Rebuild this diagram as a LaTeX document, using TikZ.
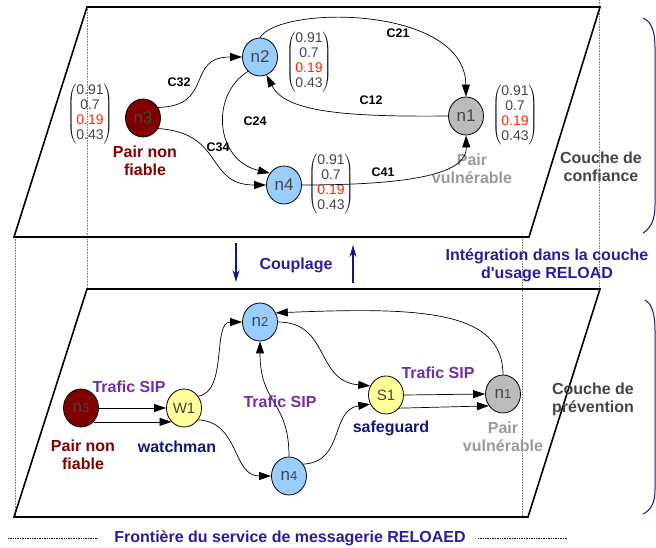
\documentclass[tikz,border=0pt]{standalone}
\usepackage{fontspec}
\setmainfont{Liberation Sans}
\usetikzlibrary{arrows.meta,shapes.geometric}
\definecolor{lblue}{HTML}{99CCFF}
\definecolor{ngray}{HTML}{BBBBBB}
\definecolor{nyellow}{HTML}{FFFF99}
\definecolor{dred}{HTML}{800000}
\definecolor{tgray}{HTML}{444444}
\definecolor{pgray}{HTML}{999999}
\definecolor{vred}{HTML}{FF2A00}
\definecolor{indigo}{HTML}{2E1A9A}
\definecolor{navyb}{HTML}{16167A}
\definecolor{purp}{HTML}{6F2FA8}
\newcommand\myvec{$\left(\vcenter{\hbox{\fontsize{14}{15}\selectfont\color{tgray}\begin{tabular}{@{}c@{}}0.91\\0.7\\\textcolor{vred}{0.19}\\0.43\end{tabular}}}\right)$}
\begin{document}
\begin{tikzpicture}[x=1pt,y=-1pt,
  nd/.style={ellipse,draw=black,line width=0.8pt,minimum width=35pt,minimum height=38pt,inner sep=0pt,font=\fontsize{17}{17}\selectfont,text=tgray},
  ndb/.style={nd,font=\fontsize{15}{15}\selectfont},
  arr/.style={-{Triangle[length=12pt,width=8pt]},line width=0.7pt},
  lay/.style={line width=1.6pt,line join=miter},
  dots/.style={densely dotted,gray,line width=0.6pt},
  lbl/.style={font=\fontsize{16}{18}\selectfont\bfseries,align=center,inner sep=0pt},
  elbl/.style={font=\fontsize{12.5}{14}\selectfont\bfseries,inner sep=0pt},
  vecn/.style={inner sep=0pt,font=\fontsize{14}{15}\selectfont}
]
\useasboundingbox (0,0) rectangle (656,547);
% dotted projection lines
\draw[dots] (87,7) -- (87,289);
\draw[dots] (15,237) -- (15,517);
\draw[dots] (599,0) -- (599,289);
\draw[dots] (522,237) -- (522,517);
% layers
\draw[lay] (87,7) -- (600,7) -- (529,237) -- (14,237) -- cycle;
\draw[lay] (87,289) -- (600,289) -- (528,517) -- (14,517) -- cycle;
% brackets
\draw[navyb,line width=1pt] (643,18) .. controls (652,22) and (655,32) .. (655,48) -- (655,205) .. controls (655,220) and (651,228) .. (643,233);
\draw[navyb,line width=1pt] (645,300) .. controls (652,304) and (655,314) .. (655,330) -- (655,490) .. controls (655,503) and (651,510) .. (643,514);

% ---------- top layer ----------
\node[nd,fill=dred] (t3) at (143,118) {n3};
\node[nd,fill=lblue] (t2) at (260,57) {n2};
\node[nd,fill=lblue] (t4) at (284,185) {n4};
\node[nd,fill=ngray] (t1) at (466,116) {n1};
\node[vecn] (v3) at (90,114) {\myvec};
\node[vecn] (v2) at (309,62) {\myvec};
\node[vecn] (v4) at (331,184) {\myvec};
\node[vecn] (v1) at (515,115) {\myvec};
\node[lbl,text=dred] (tp3) at (145,161) {Pair non\\fiable};
\node[lbl,text=pgray] (tp1) at (472,169) {Pair\\vulnérable};
\node[lbl,text=tgray] (cc) at (601,167) {Couche de\\confiance};

\draw[arr] (t3.35) .. controls (215,106) and (185,57) .. (t2.west);
\draw[arr] (t3.-35) .. controls (225,133) and (205,185) .. (t4.west);
\draw[arr] (t2.-130) .. controls (210,95) and (215,160) .. (t4.140);
\draw[arr] (t2.north) .. controls (280,5) and (465,5) .. (t1.north);
\draw[arr] (t1.west) .. controls (345,117) and (285,112) .. (t2.-70);
\draw[arr] (t4.east) .. controls (420,185) and (467,172) .. (t1.south);
\node[elbl] (c32) at (179,82) {C32};
\node[elbl] (c24) at (255,121) {C24};
\node[elbl] (c34) at (218,147) {C34};
\node[elbl] (c21) at (398,33) {C21};
\node[elbl] (c12) at (371,100) {C12};
\node[elbl] (c41) at (383,172) {C41};

% ---------- middle ----------
\coordinate (d1) at (236,243);
\coordinate (d2) at (236,282);
\coordinate (u1) at (353,283);
\coordinate (u2) at (353,245);
\draw[navyb,line width=1.2pt,-{Stealth[length=12pt,width=7pt]}] (d1) -- (d2);
\draw[navyb,line width=1.2pt,-{Stealth[length=12pt,width=7pt]}] (u1) -- (u2);
\node[lbl,text=indigo] (coup) at (296,265) {Couplage};
\node[lbl,text=indigo] (integ) at (547,265) {Intégration dans la couche\\d\textquotesingle usage RELOAD};

% ---------- bottom layer ----------
\node[nd,fill=dred] (b3) at (81,408) {n{\fontsize{13}{13}\selectfont 3}};
\node[ndb,fill=nyellow] (w1) at (184,408) {W1};
\node[nd,fill=lblue] (b2) at (260,322) {n{\fontsize{13}{13}\selectfont 2}};
\node[nd,fill=lblue] (b4) at (289,476) {n{\fontsize{13}{13}\selectfont 4}};
\node[ndb,fill=nyellow] (s1) at (386,395) {S1};
\node[nd,fill=ngray] (b1) at (503,394) {n{\fontsize{13}{13}\selectfont 1}};

\draw[arr] (b3.east) -- (w1.west);
\draw[arr] (b3.-48) -- (w1.-132);
\draw[arr] (w1.40) .. controls (228,392) and (212,322) .. (b2.west);
\draw[arr] (w1.-40) .. controls (240,422) and (232,476) .. (b4.west);
\draw[arr] (b4.north) .. controls (289,400) and (260,405) .. (b2.south);
\draw[arr] (b2.east) .. controls (330,322) and (315,381) .. (s1.150);
\draw[arr] (b4.40) .. controls (345,462) and (330,410) .. (s1.-150);
\draw[arr] (s1.east) -- (b1.west);
\draw[arr] (s1.-45) -- (b1.-140);
\draw[arr] (b1.north) .. controls (503,310) and (420,307) .. (b2.30);

\node[lbl,text=purp] (ts1) at (129,387) {Trafic SIP};
\node[lbl,text=purp] (ts2) at (280,402) {Trafic SIP};
\node[lbl,text=purp] (ts3) at (438,373) {Trafic SIP};
\node[lbl,text=dred] (bp3) at (83,455) {Pair non\\fiable};
\node[lbl,text=navyb] (wm) at (177,447) {watchman};
\node[lbl,text=navyb] (sg) at (391,428) {safeguard};
\node[lbl,text=pgray] (bp1) at (503,437) {Pair\\vulnérable};
\node[lbl,text=tgray] (cp) at (593,399) {Couche de\\prévention};

% ---------- frontier ----------
\node[lbl,text=indigo] (front) at (290,538) {Frontière du service de messagerie RELOAED};
\coordinate (fl1) at (8,538);
\coordinate (fr2) at (567,538);
\draw[densely dotted,line width=0.7pt] (fl1) -- (front.west -| 97,0);
\draw[densely dotted,line width=0.7pt] (front.east -| 478,0) -- (fr2);
\end{tikzpicture}
\end{document}
